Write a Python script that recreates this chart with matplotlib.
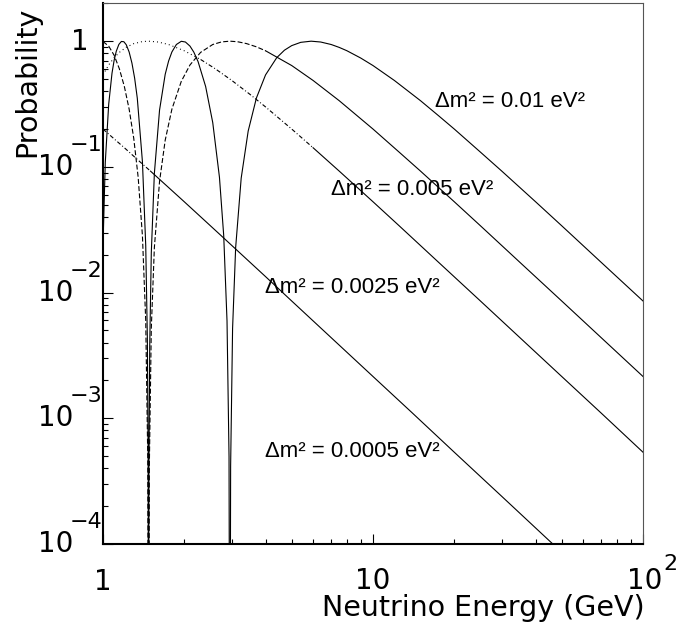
import numpy as np
import matplotlib
matplotlib.use('Agg')
import matplotlib.pyplot as plt

plt.rcParams['font.family'] = ['DejaVu Sans']
plt.rcParams['lines.scale_dashes'] = False

## oscillation probability vs neutrino energy
## dm2 = 0.01 eV^2
e_01 = [1.00, 1.02, 1.05, 1.08, 1.10, 1.12, 1.145, 1.17, 1.195, 1.22, 1.25, 1.28, 1.31,
        1.34, 1.40, 1.44, 1.46, 1.47, 1.475, 1.48, 1.49, 1.51, 1.55, 1.62, 1.70, 1.75,
        1.80, 1.87, 1.95, 2.02, 2.10, 2.17, 2.25, 2.40, 2.55, 2.70, 2.80, 2.88, 2.93,
        2.95, 2.97, 3.02, 3.10, 3.25, 3.45, 3.70, 4.00, 4.40, 4.70, 5.00, 5.40, 5.90,
        6.40, 7.00, 7.50, 8.00, 9.00, 10, 12, 15, 17.5, 20, 25, 30, 40, 50, 70, 100]
p_01 = [0.0239, 0.109, 0.315, 0.556, 0.706, 0.831, 0.942, 0.995, 0.990, 0.936, 0.820,
        0.670, 0.508, 0.352, 0.110, 0.0237, 0.00436, 0.000524, 2.3e-6, 0.000388,
        0.0038, 0.0207, 0.0888, 0.283, 0.545, 0.695, 0.821, 0.941, 0.998, 0.985,
        0.914, 0.818, 0.688, 0.436, 0.225, 0.0827, 0.0284, 0.00595, 0.000493, 6.4e-7,
        0.000416, 0.00519, 0.0228, 0.0814, 0.193, 0.353, 0.539, 0.739, 0.848, 0.922,
        0.979, 1.0, 0.985, 0.941, 0.892, 0.840, 0.735, 0.640, 0.487, 0.336, 0.255,
        0.200, 0.131, 0.0925, 0.0528, 0.0340, 0.0174, 0.00857]

## dm2 = 0.005 eV^2
e_005 = [1.00, 1.05, 1.10, 1.15, 1.20, 1.25, 1.30, 1.35, 1.40, 1.44, 1.465, 1.475,
         1.485, 1.51, 1.55, 1.62, 1.70, 1.80, 1.95, 2.10, 2.30, 2.55, 2.75, 2.95, 3.15,
         3.40, 3.70, 4.00, 5.00, 6.00, 7.50, 10, 12.5, 15, 20, 25, 35, 50, 70, 100]
p_005 = [0.994, 0.914, 0.772, 0.603, 0.436, 0.288, 0.169, 0.0827, 0.0283, 0.00595,
         0.00049, 6.4e-7, 0.000416, 0.0052, 0.0228, 0.0767, 0.163, 0.288, 0.479, 0.647,
         0.815, 0.941, 0.987, 1.0, 0.990, 0.957, 0.902, 0.839, 0.640, 0.487, 0.336,
         0.200, 0.131, 0.0925, 0.0528, 0.0340, 0.0174, 0.00857, 0.00438, 0.00215]

## dm2 = 0.0025 eV^2
e_0025 = [1.00, 1.05, 1.10, 1.15, 1.22, 1.30, 1.40, 1.475, 1.60, 1.75, 2.00, 2.30,
          2.60, 3.00, 3.50, 4.00, 5.00, 6.00, 7.50, 10, 12.5, 17.5, 25, 35, 50, 70, 100]
p_0025 = [0.539, 0.647, 0.739, 0.815, 0.896, 0.956, 0.993, 1.0, 0.985, 0.941, 0.839,
          0.715, 0.605, 0.487, 0.378, 0.300, 0.200, 0.142, 0.0925, 0.0528, 0.0340,
          0.0174, 0.00857, 0.00438, 0.00215, 0.00110, 0.000537]

## dm2 = 0.0005 eV^2
e_0005 = [1.00, 1.10, 1.20, 1.35, 1.50, 1.75, 2.00, 2.50, 3.00, 4.00, 5.00, 7.00, 10,
          14, 20, 30, 45, 60, 100]
p_0005 = [0.200, 0.167, 0.142, 0.113, 0.0925, 0.0685, 0.0528, 0.0340, 0.0237, 0.0134,
          0.00857, 0.00438, 0.00215, 0.00110, 0.000537, 0.000239, 0.000106, 5.97e-5,
          2.15e-5]

labels = ['\u0394m\u00b2 = 0.01 eV\u00b2', '\u0394m\u00b2 = 0.005 eV\u00b2',
          '\u0394m\u00b2 = 0.0025 eV\u00b2', '\u0394m\u00b2 = 0.0005 eV\u00b2']
label_pos = [(16.97, 0.33), (6.99, 0.066), (3.98, 0.0109), (3.98, 5.4e-4)]

LW = 0.8
DASHED = (3.6, 1.6)
DOTTED = (0.7, 2.2)
DASHDOT = (3.0, 1.6, 0.7, 1.6)

fig = plt.figure(figsize=(6.77, 6.31), dpi=100)
ax = fig.add_axes([0.1521, 0.1379, 0.7977, 0.8568])
ax.set_xscale('log')
ax.set_yscale('log')


def draw(e, p, segments):
    # the dash pattern only shows up on the flat part of each curve
    e = np.array(e)
    p = np.array(p)
    lo = 0
    for e_end, dash in segments:
        m = (e >= lo) & (e <= e_end)
        if dash is None:
            ax.plot(e[m], p[m], color='k', lw=LW)
        else:
            ax.plot(e[m], p[m], color='k', lw=LW, dashes=dash)
        lo = e_end


draw(e_01, p_01, [(100, None)])
draw(e_005, p_005, [(4.0, DASHED), (100, None)])
draw(e_0025, p_0025, [(2.3, DOTTED), (6.0, DASHDOT), (100, None)])
draw(e_0005, p_0005, [(1.5, DASHDOT), (100, None)])

for txt, (x, y) in zip(labels, label_pos):
    ax.text(x, y, txt, fontsize=16, family='Liberation Sans', ha='left', va='center')

ax.set_xlim(1, 100)
ax.set_ylim(1e-4, 2)

ax.tick_params(which='both', direction='in', top=False, right=False,
               labelbottom=False, labelleft=False)
ax.tick_params(which='major', length=7, width=0.8)
ax.tick_params(which='minor', length=3.8, width=0.8)
for s in ['left', 'bottom']:
    ax.spines[s].set_linewidth(1.5)
for s in ['top', 'right']:
    ax.spines[s].set_linewidth(0.8)
    ax.spines[s].set_color('#555555')

## tick labels, PAW style
kw = dict(textcoords='offset pixels', annotation_clip=False, fontsize=20)
ax.annotate('1', xy=(0, 1), xycoords=('axes fraction', 'data'), xytext=(-23.5, -1.3),
            ha='center', va='center', **kw)
for k in [1, 2, 3, 4]:
    ax.annotate('10', xy=(0, 10.0 ** -k), xycoords=('axes fraction', 'data'),
                xytext=(-30, 0), ha='right', va='center', **kw)
    ax.annotate('\u2212%d' % k, xy=(0, 10.0 ** -k), xycoords=('axes fraction', 'data'),
                xytext=(-33, 22), ha='left', va='center',
                textcoords='offset pixels', annotation_clip=False, fontsize=16)
ax.annotate('1', xy=(1, 0), xycoords=('data', 'axes fraction'), xytext=(0, -38),
            ha='center', va='center', **kw)
ax.annotate('10', xy=(10, 0), xycoords=('data', 'axes fraction'), xytext=(0, -37),
            ha='center', va='center', **kw)
ax.annotate('10', xy=(100, 0), xycoords=('data', 'axes fraction'), xytext=(2, -37),
            ha='center', va='center', **kw)
ax.annotate('2', xy=(100, 0), xycoords=('data', 'axes fraction'), xytext=(27, -20),
            ha='center', va='center', textcoords='offset pixels',
            annotation_clip=False, fontsize=16)

fig.text(645 / 677, 1 - 608 / 631, 'Neutrino Energy (GeV)', fontsize=20.5,
         ha='right', va='center')
fig.text(27 / 677, 1 - 82 / 631, 'Probability', fontsize=20.5, rotation=90,
         ha='center', va='center')

fig.savefig('out.png', dpi=100)
